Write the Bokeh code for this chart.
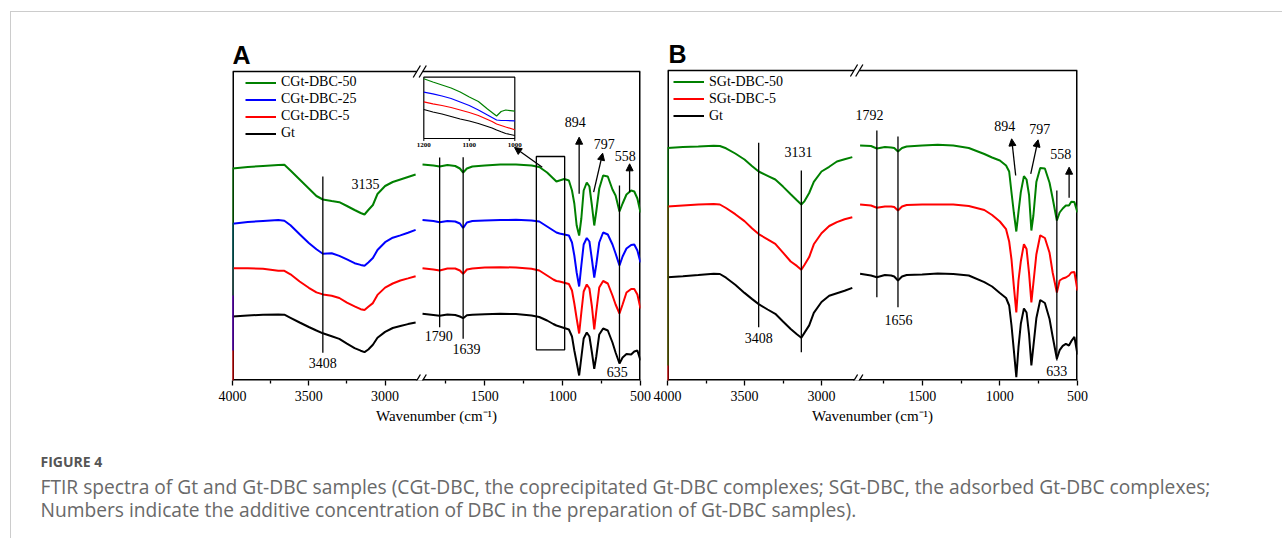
from bokeh.plotting import figure
from bokeh.models import (Range1d, FixedTicker, CustomJSTickFormatter,
                          Arrow, NormalHead, Label, Legend, LegendItem, Spacer)
from bokeh.layouts import column, row
from bokeh.core.properties import value
from bokeh.embed import file_html
from bokeh.resources import INLINE

SERIF = "Liberation Serif"
GREEN, BLUE, RED, BLACK = "#008000", "#0000ff", "#ff0000", "#000000"

# ---------------- data ----------------
# y = vertical position of the stacked, offset spectra (a.u.; larger value = lower on the page)

# Panel A, high-wavenumber part
WN_HI_A = [4000, 3900, 3800, 3700, 3660, 3620, 3560, 3500, 3450, 3408, 3350, 3300,
           3250, 3200, 3160, 3135, 3110, 3080, 3050, 3000, 2950, 2900, 2850, 2800]
A_G50_HI = [168, 166.5, 165.5, 164.5, 164.3, 170, 179, 188, 195.5, 199, 200.5, 201.7,
            205.5, 209.5, 212.5, 214, 209.5, 204.5, 193.5, 185.5, 181.5, 179, 176.5, 174]
A_B25_HI = [223.3, 221.5, 220.5, 219.5, 220.2, 224.7, 233.8, 242.5, 248.8, 253.2, 252.8, 255.4,
            258.9, 262.7, 264.4, 265.2, 261.9, 257.6, 249.5, 241.7, 237.2, 234.9, 232.2, 229.4]
A_R5_HI = [267.7, 267.7, 268.3, 270.2, 270.3, 273.8, 281, 287.3, 291.9, 293.9, 295.2, 297.5,
           302.1, 305.8, 308.7, 309.5, 306.3, 302.6, 294.4, 287.1, 283, 280, 277.9, 275.7]
A_GT_HI = [316, 315, 314.3, 314.1, 314.2, 317.3, 322, 326.5, 330, 332.8, 335.8, 338.4,
           343.2, 347.6, 350.2, 351.6, 349, 344.3, 337.3, 331.4, 327.5, 325.5, 323.6, 322]

# Panel A, low-wavenumber part
WN_LO_A = [1900, 1830, 1790, 1740, 1690, 1660, 1639, 1615, 1580, 1500, 1400, 1300, 1200, 1150,
           1100, 1060, 1040, 1020, 990, 960, 940, 925, 910, 894, 880, 865, 845, 828, 812, 797,
           784, 765, 740, 710, 680, 660, 635, 615, 590, 560, 540, 520, 500]
A_G50_LO = [164, 165, 166, 164.5, 165.5, 168, 172, 168, 166, 165, 164, 164, 165, 166.5,
            172, 178, 181, 180, 178.5, 180, 190, 203, 225, 235, 218, 190, 182, 186, 205, 225,
            211, 188, 175, 176, 189, 195, 211, 203, 194, 190, 191, 198, 212]
A_B25_LO = [219.5, 220.5, 221.7, 220.5, 221, 223, 227.5, 222, 220.5, 220, 219.5, 219.3, 220, 221,
            226, 230, 232, 233, 234, 235, 242, 255, 272, 286, 265, 244, 237.5, 241, 259, 277,
            264, 242, 232, 234, 244, 253, 265, 256, 248, 244.5, 244, 250, 262]
A_R5_LO = [267.7, 269, 270, 268, 268, 270, 273.3, 269, 268, 267, 266.7, 267, 268.3, 270,
           275, 279, 280.5, 281, 282.3, 283.5, 290, 303, 318, 333, 312, 291, 284, 288, 306, 329,
           311, 287, 280.5, 283, 295, 304, 313, 304, 292, 288.5, 288.5, 294, 308]
A_GT_LO = [313.3, 314.5, 315.3, 314, 314.5, 316, 317.7, 314.7, 314.3, 313.7, 313.3, 313.5, 315, 316.5,
           320, 323.5, 325, 326, 327.5, 329, 336, 350, 362, 375, 357, 338, 332, 336, 352, 368.3,
           356, 334, 328, 330, 342, 352, 363, 357, 353.5, 354, 351, 350, 360]
# lowest point of the vertical trace drawn at 4000 cm-1 (G50, B25, R5)
A_EDGE = [295, 350, 392]

# Panel A inset (1200-1000 cm-1)
WN_INSET = [1200, 1180, 1160, 1140, 1120, 1100, 1080, 1060, 1050, 1040, 1030, 1020, 1000]
IN_G50 = [78.3, 81.5, 84.5, 87.5, 91.5, 96.5, 101, 108.5, 112, 115.5, 111, 109.5, 110.7]
IN_B25 = [91.7, 93.3, 95.5, 98, 101.5, 105, 109.5, 114.5, 117, 119.5, 120, 120, 120.3]
IN_R5 = [101.3, 103.3, 105, 107, 109.5, 112, 115, 119, 121, 123.5, 125, 126.5, 129.3]
IN_GT = [109, 111.5, 113.5, 116, 118.5, 120.5, 123, 126, 127.5, 129.5, 131.3, 133, 135]
INSET_TICKS = [1200, 1100, 1000]

# Panel B, high-wavenumber part
WN_HI_B = [4000, 3900, 3800, 3700, 3660, 3620, 3560, 3500, 3450, 3408, 3350, 3300,
           3250, 3200, 3160, 3131, 3110, 3080, 3050, 3000, 2950, 2900, 2850, 2800]
B_G50_HI = [147.5, 146.5, 146, 145.3, 145.5, 147.8, 153, 159, 165.7, 171, 175.3, 179,
            186.1, 193.8, 199.8, 204, 200.6, 192.5, 181.3, 171, 166.3, 161, 158.8, 156.6]
B_R5_HI = [206, 205, 204.1, 203.5, 204, 207.5, 213.7, 220.6, 228, 233.6, 238.8, 243.3,
           252.1, 261, 265.4, 269.2, 264.2, 256.6, 243.8, 232.7, 225.5, 221.6, 218.8, 216.8]
B_GT_HI = [276.7, 275.7, 274.6, 273.2, 273.5, 277.2, 284.3, 292.4, 298.6, 303.6, 309, 313.3,
           321, 328.5, 333.8, 337.2, 332.1, 324.9, 312.3, 301.5, 295.2, 292.7, 290.3, 287.4]

# Panel B, low-wavenumber part
WN_LO_B = [1900, 1830, 1792, 1740, 1700, 1680, 1656, 1630, 1600, 1500, 1400, 1300, 1200, 1100,
           1050, 1000, 960, 940, 925, 910, 894, 880, 865, 845, 828, 812, 797, 784, 765, 740,
           710, 680, 660, 633, 615, 595, 575, 555, 540, 520, 500]
B_G50_LO = [145, 145.5, 148, 146.5, 147, 147.5, 151, 147.5, 146, 145, 144.3, 145, 147.5, 153.5,
            157, 160, 165, 171, 192, 212, 231, 211.3, 191.6, 175.6, 179, 194.5, 230, 215, 181.6, 167.5,
            168, 182.3, 197.8, 220, 212, 208, 205, 205, 201.3, 201.6, 212]
B_R5_LO = [204, 205, 207.3, 206, 206, 206.5, 210, 206, 204.5, 204, 204, 204, 205.5, 209.5,
           214.5, 221, 228.7, 241, 259, 285.6, 312, 280, 260.8, 243.6, 248.5, 272.6, 302, 282.5, 254, 234.8,
           237.5, 252.3, 272, 292, 280, 278, 277, 275, 272, 271.5, 290]
B_GT_LO = [273.3, 275, 276.7, 274.5, 275, 276, 280, 276, 274.5, 274, 273, 273.5, 275, 281.7,
           286, 292.5, 297.5, 305, 325, 349.6, 376.7, 346.7, 323.3, 308, 312, 333.8, 365, 345.7, 317.8, 299.5,
           302.5, 318.5, 336, 358.3, 349.7, 345.3, 343.3, 345, 340.7, 336.4, 354]
B_EDGE = [365, 392]

MAJOR_TICKS = [4000, 3500, 3000, 1500, 1000, 500]
MINOR_TICKS = [3750, 3250, 1750, 1250, 750]

NAMES_A = ["CGt-DBC-50", "CGt-DBC-25", "CGt-DBC-5", "Gt"]
NAMES_B = ["SGt-DBC-50", "SGt-DBC-5", "Gt"]

# peak annotations: (text, wavenumber position, height)
A_LABELS = [("3135", 3128, 183.3), ("3408", 3408, 362.7), ("1790", 1795, 335), ("1639", 1617, 348.3),
            ("894", 919, 121.7), ("797", 733, 143.3), ("558", 598, 155.7), ("635", 650, 371.7)]
A_MARKS = [(3408, 176, 352.3), (1790, 157, 326.7), (1639, 156.7, 338.3), (635, 185, 363)]
A_ARROWS = [(894, 193.3, 894, 136.7), (801, 191.7, 743, 152.7), (570, 191.7, 570, 163.3)]
B_LABELS = [("3131", 3150, 151.7), ("3408", 3408, 337.3), ("1792", 1840, 114), ("1656", 1653, 319),
            ("894", 969, 125), ("797", 743, 128.3), ("558", 608, 153.3), ("633", 634, 370)]
B_MARKS = [(3408, 142.3, 326.7), (3131, 170, 351.7), (1792, 130, 296.7), (1656, 136, 306.7), (633, 190, 360)]
B_ARROWS = [(898, 175, 924, 138.3), (801, 173.3, 754, 139.3), (554, 197.3, 554, 166.7)]

CAPTION_1 = ("FTIR spectra of Gt and Gt-DBC samples (CGt-DBC, the coprecipitated Gt-DBC complexes; "
             "SGt-DBC, the adsorbed Gt-DBC complexes;")
CAPTION_2 = "Numbers indicate the additive concentration of DBC in the preparation of Gt-DBC samples)."

FRAME_BOTTOM = 380
FRAME_TOP = 40      # drawing area reaches above the box so the panel letter fits
FIG_H = 418


def axis_map(scale, frame_w, px1500):
    """Broken axis: u = wn above the break, u = D + k*wn below it."""
    span = frame_w / scale
    k = (span - px1500 / scale) / 1000.0
    D = 4000 - span - 500 * k
    return k, D, 4000 - span


def build_panel(letter, fig_w, border_l, frame_w, box_top, scale, px1500,
                wn_hi, hi_series, wn_lo, lo_series, edges, names, colors, legend_x, legend_top,
                labels, marks, arrows, brk_px, letter_dx, letter_y):
    k, D, u_end = axis_map(scale, frame_w, px1500)

    def U(w):
        return w if w >= 2500 else D + k * w

    border_t = FRAME_TOP - 12
    p = figure(width=fig_w, height=FIG_H, x_range=Range1d(4000, u_end),
               y_range=Range1d(FRAME_BOTTOM, FRAME_TOP), y_axis_location=None,
               output_backend="svg", toolbar_location=None,
               min_border_left=border_l, min_border_right=fig_w - border_l - frame_w,
               min_border_top=border_t, min_border_bottom=FIG_H - border_t - (FRAME_BOTTOM - FRAME_TOP))
    p.xgrid.visible = False
    p.ygrid.visible = False
    p.outline_line_color = None
    p.background_fill_color = "white"
    p.border_fill_color = "white"

    xa = p.below[0]
    xa.ticker = FixedTicker(ticks=[U(w) for w in MAJOR_TICKS], minor_ticks=[U(w) for w in MINOR_TICKS])
    xa.formatter = CustomJSTickFormatter(args=dict(brk=2700.0, D=D, k=k),
                                         code="const w = tick > brk ? tick : (tick - D) / k; return Math.round(w).toString();")
    xa.axis_line_color = None
    xa.major_tick_in = 0
    xa.major_tick_out = 5
    xa.minor_tick_in = 0
    xa.minor_tick_out = 3
    xa.major_tick_line_width = 1.3
    xa.minor_tick_line_width = 1.3
    xa.major_label_standoff = 5
    xa.major_label_text_font = SERIF
    xa.major_label_text_font_size = "14px"
    xa.major_label_text_color = "black"
    xa.axis_label = "Wavenumber (cm\u207b\u00b9)"
    xa.axis_label_text_font = SERIF
    xa.axis_label_text_font_style = "normal"
    xa.axis_label_text_font_size = "15px"
    xa.axis_label_text_color = "black"
    xa.axis_label_standoff = 4

    # plot box (sides and bottom lie on the drawing-area edge, so they are drawn twice as wide)
    p.segment(x0=[4000, u_end, 4000], y0=[box_top, box_top, FRAME_BOTTOM],
              x1=[4000, u_end, u_end], y1=[FRAME_BOTTOM, FRAME_BOTTOM, FRAME_BOTTOM],
              line_color="black", line_width=3)
    p.segment(x0=[4000], y0=[box_top], x1=[u_end], y1=[box_top], line_color="black", line_width=1.5)

    # spectra (drawn bottom-most first so the top trace lies on top)
    renderers = []
    n = len(hi_series)
    for i in reversed(range(n)):
        xs_hi = [U(w) for w in wn_hi]
        ys_hi = list(hi_series[i])
        if i < len(edges):
            xs_hi = [U(wn_hi[0])] + xs_hi
            ys_hi = [edges[i]] + ys_hi
        r = p.line(xs_hi, ys_hi, line_color=colors[i], line_width=2)
        p.line([U(w) for w in wn_lo], lo_series[i], line_color=colors[i], line_width=2)
        renderers.append((i, r))
    renderers.sort(key=lambda t: t[0])

    # vertical peak markers
    p.segment(x0=[U(m[0]) for m in marks], y0=[m[1] for m in marks],
              x1=[U(m[0]) for m in marks], y1=[m[2] for m in marks],
              line_color="black", line_width=1.3)
    # peak numbers
    p.text(x=[U(t[1]) for t in labels], y=[t[2] for t in labels], text=[t[0] for t in labels],
           text_font=value(SERIF), text_font_size=value("14px"), text_color="black",
           text_align="center", text_baseline="middle")
    for (w0, y0, w1, y1) in arrows:
        p.add_layout(Arrow(x_start=U(w0), y_start=y0, x_end=U(w1), y_end=y1, line_width=1.3,
                           line_color="black",
                           end=NormalHead(size=7, fill_color="black", line_color="black", line_width=1)))

    # axis-break marks
    du = 3.6 / scale
    c1 = 4000 - brk_px[0] / scale
    c2 = 4000 - brk_px[1] / scale
    for yy in (box_top, FRAME_BOTTOM):
        p.segment(x0=[c1], y0=[yy], x1=[c2], y1=[yy], line_color="white", line_width=4)
        p.segment(x0=[c1 + du, c2 + du], y0=[yy + 6, yy + 6], x1=[c1 - du, c2 - du], y1=[yy - 6, yy - 6],
                  line_color="black", line_width=1.3)

    legend_bottom = legend_top + 17 * len(names)
    legend = Legend(items=[LegendItem(label=names[i], renderers=[r]) for i, r in renderers],
                    location=(legend_x, FRAME_BOTTOM - legend_bottom), glyph_width=31, glyph_height=17,
                    label_height=17, label_standoff=5, spacing=0, padding=0, margin=0,
                    border_line_alpha=0, background_fill_alpha=0,
                    label_text_font=SERIF, label_text_font_size="14px", label_text_color="black")
    p.add_layout(legend)

    p.add_layout(Label(x=4000, y=letter_y, x_offset=letter_dx, text=letter,
                       text_font="Liberation Sans", text_font_style="bold", text_font_size="25px",
                       text_color="black", text_baseline="middle", text_align="left"))
    return p, U


# ---------------- panel A ----------------
pA, UA = build_panel("A", fig_w=641, border_l=221, frame_w=408, box_top=71,
                     scale=0.1526, px1500=252.3,
                     wn_hi=WN_HI_A, hi_series=[A_G50_HI, A_B25_HI, A_R5_HI, A_GT_HI],
                     wn_lo=WN_LO_A, lo_series=[A_G50_LO, A_B25_LO, A_R5_LO, A_GT_LO],
                     edges=A_EDGE, names=NAMES_A, colors=[GREEN, BLUE, RED, BLACK],
                     legend_x=13, legend_top=73.7,
                     labels=A_LABELS, marks=A_MARKS, arrows=A_ARROWS, brk_px=(184.3, 190.2),
                     letter_dx=0, letter_y=54.2)

# boxed region 1169-987 cm-1 and pointer to the inset
pA.quad(left=[UA(1169)], right=[UA(987)], top=[156], bottom=[349.3],
        fill_color=None, line_color="black", line_width=1.3)
pA.add_layout(Arrow(x_start=UA(1131), y_start=166.7, x_end=UA(1309), y_end=147, line_width=1.3,
                    line_color="black",
                    end=NormalHead(size=7, fill_color="black", line_color="black", line_width=1)))

# inset (own x range placed so that 1200..1000 covers the inset box)
IN_L, IN_R = 191.3, 282.3   # inset box edges, pixels from the left of panel A's box
IN_SCALE = (IN_R - IN_L) / 200.0
pA.extra_x_ranges = {"inset": Range1d(1200 + IN_L / IN_SCALE, 1200 - (408 - IN_L) / IN_SCALE)}
pA.quad(left=[1200], right=[1000], top=[76.7], bottom=[138], x_range_name="inset",
        fill_color="white", line_color="black", line_width=1.2)
for ys, col in ((IN_GT, BLACK), (IN_R5, RED), (IN_B25, BLUE), (IN_G50, GREEN)):
    pA.line(WN_INSET, ys, x_range_name="inset", line_color=col, line_width=1.2)
pA.segment(x0=INSET_TICKS, y0=[138] * 3, x1=INSET_TICKS, y1=[140.5] * 3, x_range_name="inset",
           line_color="black", line_width=1)
pA.text(x=INSET_TICKS, y=[144] * 3, text=[str(t) for t in INSET_TICKS], x_range_name="inset",
        text_font=value(SERIF), text_font_size=value("7px"), text_font_style="bold",
        text_align="center", text_baseline="middle", text_color="black")

# ---------------- panel B ----------------
pB, UB = build_panel("B", fig_w=630, border_l=15, frame_w=410, box_top=70,
                     scale=0.154, px1500=254.7,
                     wn_hi=WN_HI_B, hi_series=[B_G50_HI, B_R5_HI, B_GT_HI],
                     wn_lo=WN_LO_B, lo_series=[B_G50_LO, B_R5_LO, B_GT_LO],
                     edges=B_EDGE, names=NAMES_B, colors=[GREEN, RED, BLACK],
                     legend_x=6, legend_top=73.2,
                     labels=B_LABELS, marks=B_MARKS, arrows=B_ARROWS, brk_px=(186.5, 191.8),
                     letter_dx=1, letter_y=53.9)

# ---------------- caption ----------------
cap = figure(width=1271, height=108, x_range=Range1d(0, 1271), y_range=Range1d(108, 0),
             x_axis_type=None, y_axis_type=None, output_backend="svg", toolbar_location=None,
             min_border=0, min_border_left=0, min_border_right=0, min_border_top=0, min_border_bottom=0)
cap.outline_line_color = None
cap.xgrid.visible = False
cap.ygrid.visible = False
cap.add_layout(Label(x=29, y=31, text="FIGURE 4", text_font="Open Sans", text_font_style="bold",
                     text_font_size="14px", text_color="#555555", text_baseline="middle"))
cap.add_layout(Label(x=29, y=56, text=CAPTION_1, text_font="Open Sans",
                     text_font_size="19.2px", text_color="#696969", text_baseline="middle"))
cap.add_layout(Label(x=29, y=79, text=CAPTION_2, text_font="Open Sans",
                     text_font_size="19.2px", text_color="#696969", text_baseline="middle"))

LINE_GREY = {"background-color": "#cccccc"}
inner = column(Spacer(width=1271, height=1, styles=LINE_GREY), row(pA, pB), cap, spacing=0)
page = column(Spacer(width=1282, height=11),
              row(Spacer(width=10, height=527), Spacer(width=1, height=527, styles=LINE_GREY), inner, spacing=0),
              spacing=0)

open("out.html", "w").write(file_html(page, INLINE))
